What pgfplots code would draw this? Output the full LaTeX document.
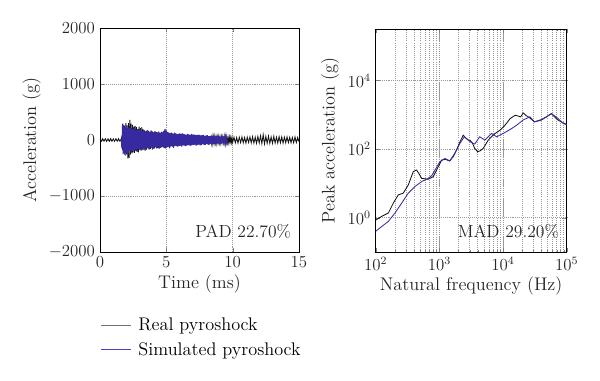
\documentclass[border=0pt]{standalone}
\usepackage{pgfplots}
\pgfplotsset{compat=1.18}
\usepackage{pgfplotstable}
\definecolor{simblue}{RGB}{55,42,160}
\definecolor{legblue}{RGB}{80,62,190}
\definecolor{realblk}{RGB}{20,20,20}

\pgfplotstableread{
t a
0.0 5
0.1 -22
0.2 24
0.3 -20
0.4 23
0.5 -24
0.6 21
0.7 -23
0.8 25
0.9 -22
1.0 20
1.1 -24
1.2 23
1.3 -21
1.4 24
1.5 -22
1.6 20
1.65 60
1.70 -180
1.75 240
1.80 -230
1.85 250
1.90 -280
1.95 300
2.00 -250
2.05 260
2.10 -330
2.15 300
2.20 -320
2.25 360
2.30 -260
2.35 290
2.40 -240
2.45 270
2.50 -220
2.55 240
2.60 -230
2.65 250
2.70 -200
2.75 230
2.80 -210
2.85 200
2.90 -220
2.95 240
3.00 -180
3.05 210
3.10 -190
3.15 230
3.20 -170
3.25 190
3.30 -180
3.35 170
3.40 -190
3.45 160
3.50 -170
3.55 180
3.60 -150
3.65 160
3.70 -170
3.75 150
3.80 -160
3.85 170
3.90 -140
3.95 150
4.00 -160
4.05 140
4.10 -150
4.15 160
4.20 -130
4.25 140
4.30 -150
4.35 130
4.40 -140
4.45 150
4.50 -130
4.55 120
4.60 -140
4.65 150
4.70 -120
4.75 140
4.80 -130
4.85 170
4.90 -150
4.95 140
5.00 -130
5.05 150
5.10 -120
5.15 130
5.20 -130
5.25 120
5.30 -120
5.35 130
5.40 -110
5.45 120
5.50 -120
5.55 110
5.60 -110
5.65 120
5.70 -100
5.75 110
5.80 -110
5.85 100
5.90 -100
5.95 110
6.00 -100
6.05 100
6.10 -95
6.15 105
6.20 -100
6.25 95
6.30 -90
6.35 100
6.40 -95
6.45 90
6.50 -90
6.55 95
6.60 -85
6.65 90
6.70 -90
6.75 85
6.80 -85
6.85 90
6.90 -80
6.95 85
7.00 -85
7.05 80
7.10 -80
7.15 85
7.20 -75
7.25 80
7.30 -80
7.35 75
7.40 -75
7.45 80
7.50 -70
7.55 75
7.60 -75
7.65 70
7.70 -70
7.75 75
7.80 -65
7.85 70
7.90 -70
7.95 65
8.00 -65
8.05 70
8.10 -60
8.15 65
8.20 -65
8.25 60
8.30 -60
8.35 65
8.40 -55
8.45 60
8.50 -60
8.55 55
8.60 -55
8.65 60
8.70 -50
8.75 55
8.80 -55
8.85 50
8.90 -50
8.95 55
9.00 -50
9.05 50
9.10 -50
9.15 55
9.20 -45
9.25 50
9.30 -50
9.35 45
9.40 -50
9.45 55
9.50 -45
9.55 50
9.60 -50
9.65 45
9.70 -45
9.75 50
9.80 -45
9.85 40
9.90 -45
9.95 45
10.0 -45
10.1 50
10.2 -50
10.3 45
10.4 -55
10.5 50
10.6 -45
10.7 55
10.8 -50
10.9 45
11.0 -55
11.1 50
11.2 -45
11.3 55
11.4 -50
11.5 60
11.6 -55
11.7 50
11.8 -60
11.9 65
12.0 -55
12.1 75
12.2 -65
12.3 95
12.4 -70
12.5 65
12.6 -60
12.7 70
12.8 -60
12.9 55
13.0 -60
13.1 65
13.2 -55
13.3 50
13.4 -55
13.5 60
13.6 -50
13.7 55
13.8 -55
13.9 50
14.0 -50
14.1 55
14.2 -45
14.3 50
14.4 -50
14.5 45
14.6 -50
14.7 55
14.8 -45
14.9 45
15.0 -30
}\realtime

\pgfplotstableread{
t a
1.60 0
1.65 -150
1.70 290
1.75 -250
1.80 270
1.85 -260
1.90 230
1.95 -230
2.00 260
2.05 -270
2.10 210
2.15 -230
2.20 240
2.25 -190
2.30 220
2.35 -210
2.40 190
2.45 -200
2.50 230
2.55 -180
2.60 200
2.65 -190
2.70 170
2.75 -200
2.80 190
2.85 -160
2.90 180
2.95 -170
3.00 200
3.05 -150
3.10 170
3.15 -180
3.20 160
3.25 -150
3.30 180
3.35 -160
3.40 150
3.45 -170
3.50 160
3.55 -140
3.60 170
3.65 -150
3.70 140
3.75 -160
3.80 150
3.85 -130
3.90 160
3.95 -170
4.00 130
4.05 -140
4.10 150
4.15 -120
4.20 140
4.25 -150
4.30 130
4.35 -120
4.40 150
4.45 -160
4.50 120
4.55 -140
4.60 140
4.65 -120
4.70 130
4.75 -130
4.80 160
4.85 -140
4.90 200
4.95 -150
5.00 170
5.05 -130
5.10 140
5.15 -120
5.20 130
5.25 -150
5.30 120
5.35 -110
5.40 130
5.45 -120
5.50 110
5.55 -140
5.60 130
5.65 -100
5.70 120
5.75 -110
5.80 110
5.85 -120
5.90 100
5.95 -110
6.00 120
6.05 -100
6.10 110
6.15 -120
6.20 120
6.25 -90
6.30 110
6.35 -100
6.40 100
6.45 -110
6.50 90
6.55 -100
6.60 110
6.65 -90
6.70 100
6.75 -95
6.80 90
6.85 -110
6.90 110
6.95 -85
7.00 95
7.05 -90
7.10 100
7.15 -80
7.20 90
7.25 -105
7.30 85
7.35 -85
7.40 95
7.45 -80
7.50 90
7.55 -95
7.60 80
7.65 -90
7.70 85
7.75 -75
7.80 90
7.85 -90
7.90 75
7.95 -85
8.00 80
8.05 -70
8.10 85
8.15 -85
8.20 70
8.25 -80
8.30 75
8.35 -70
8.40 80
8.45 -75
8.50 75
8.55 -70
8.60 70
8.65 -75
8.70 65
8.75 -70
8.80 75
8.85 -60
8.90 70
8.95 -65
9.00 65
9.05 -70
9.10 60
9.15 -65
9.20 70
9.25 -55
9.30 65
9.35 -60
9.40 55
9.45 -60
9.50 60
9.55 -50
9.60 0
}\simtime

\pgfplotstableread{
f p
100 0.85
124 1.09
158 1.37
189 2.66
226 4.6
271 5.2
325 9
389 22
438 24.6
480 19
527 14
670 13.2
800 15.7
906 24.6
1088 48
1250 50
1450 45
1650 60
1860 94
2100 160
2370 254
2600 210
2840 183
3020 182
3300 150
3600 104
4000 83
4400 90
4870 104
5860 182
6600 230
7520 286
8950 355
10700 493
13000 780
15600 970
18900 870
20800 1130
23000 950
25900 830
31200 620
40000 700
48000 870
57400 1080
65000 850
73000 700
85000 600
100000 520
}\realsrs

\pgfplotstableread{
f p
100 0.4
116 0.5
158 0.78
201 1.37
256 2.66
325 5.2
414 8.1
527 11.3
670 14
760 17
857 24.6
1020 43
1220 53
1460 45.5
1750 75
2100 146
2470 228
2840 183
3100 160
3400 146
3600 140
4300 228
5200 182
6590 286
7950 228
10100 286
13000 375
16300 493
20600 700
26400 870
31200 620
40000 728
48000 870
58000 1080
73000 780
89000 550
100000 520
}\simsrs

\pgfplotsset{
  mystyle/.style={
    scale only axis,
    axis line style={black, line width=0.6pt},
    tick align=inside,
    tick pos=both,
    major tick length=3pt,
    minor tick length=1.5pt,
    grid style={densely dotted, gray!80, line width=0.5pt},
    tick label style={font=\fontsize{12}{14}\selectfont, text=black!85},
    label style={font=\fontsize{13}{15}\selectfont, text=black!85},
    /pgf/number format/1000 sep={},
  },
}

\begin{document}
\begin{tikzpicture}
\useasboundingbox (0,0) rectangle (15cm,9.525cm);

\begin{axis}[
  mystyle,
  at={(2.5cm,3.225cm)}, anchor=south west,
  width=4.975cm, height=5.6cm,
  xmin=0, xmax=15, ymin=-2000, ymax=2000,
  xtick={0,5,10,15}, ytick={-2000,-1000,0,1000,2000},
  xmajorgrids, ymajorgrids,
  xlabel={Time (ms)}, ylabel={Acceleration (g)},
  xlabel style={yshift=2pt},
  ylabel style={yshift=-1pt},
  legend style={at={(rel axis cs:0,-0.382)}, anchor=west, draw=none, fill=none,
    font=\fontsize{13}{15}\selectfont, row sep=3pt, column sep=3pt,
    cells={anchor=west}, inner xsep=0pt},
]
\addplot[realblk, line width=0.6pt, forget plot] table[x=t, y=a] {\realtime};
\addplot[simblue, line width=0.7pt, forget plot] table[x=t, y=a] {\simtime};
\addlegendimage{legend image code/.code={\color{black!55}\draw[black!55, line width=0.8pt] (0cm,0cm) -- (0.75cm,0cm);}}
\addlegendentry{Real pyroshock}
\addlegendimage{legend image code/.code={\color{legblue}\draw[legblue, line width=0.8pt] (0cm,0cm) -- (0.75cm,0cm);}}
\addlegendentry{Simulated pyroshock}
\node[anchor=base east, font=\fontsize{12.5}{14}\selectfont, text=black!85] at (rel axis cs:0.985,0.065) {PAD 22.70\%};
\end{axis}

\begin{axis}[
  mystyle,
  at={(9.3925cm,3.225cm)}, anchor=south west,
  width=4.775cm, height=5.575cm,
  xmode=log, ymode=log,
  xmin=100, xmax=100000, ymin=0.1, ymax=3.16e5,
  xtick={100,1000,10000,100000},
  ytick={1,100,10000},
  xmajorgrids, xminorgrids, ymajorgrids,
  minor grid style={densely dotted, gray!80, line width=0.5pt},
  yminorticks=false,
  xlabel={Natural frequency (Hz)}, ylabel={Peak acceleration (g)},
  xlabel style={yshift=2pt},
  ylabel style={yshift=-1pt},
]
\addplot[realblk, line width=0.6pt] table[x=f, y=p] {\realsrs};
\addplot[simblue, line width=0.6pt] table[x=f, y=p] {\simsrs};
\node[anchor=base east, font=\fontsize{12.5}{14}\selectfont, text=black!85] at (rel axis cs:0.985,0.065) {MAD 29.20\%};
\end{axis}
\end{tikzpicture}
\end{document}
